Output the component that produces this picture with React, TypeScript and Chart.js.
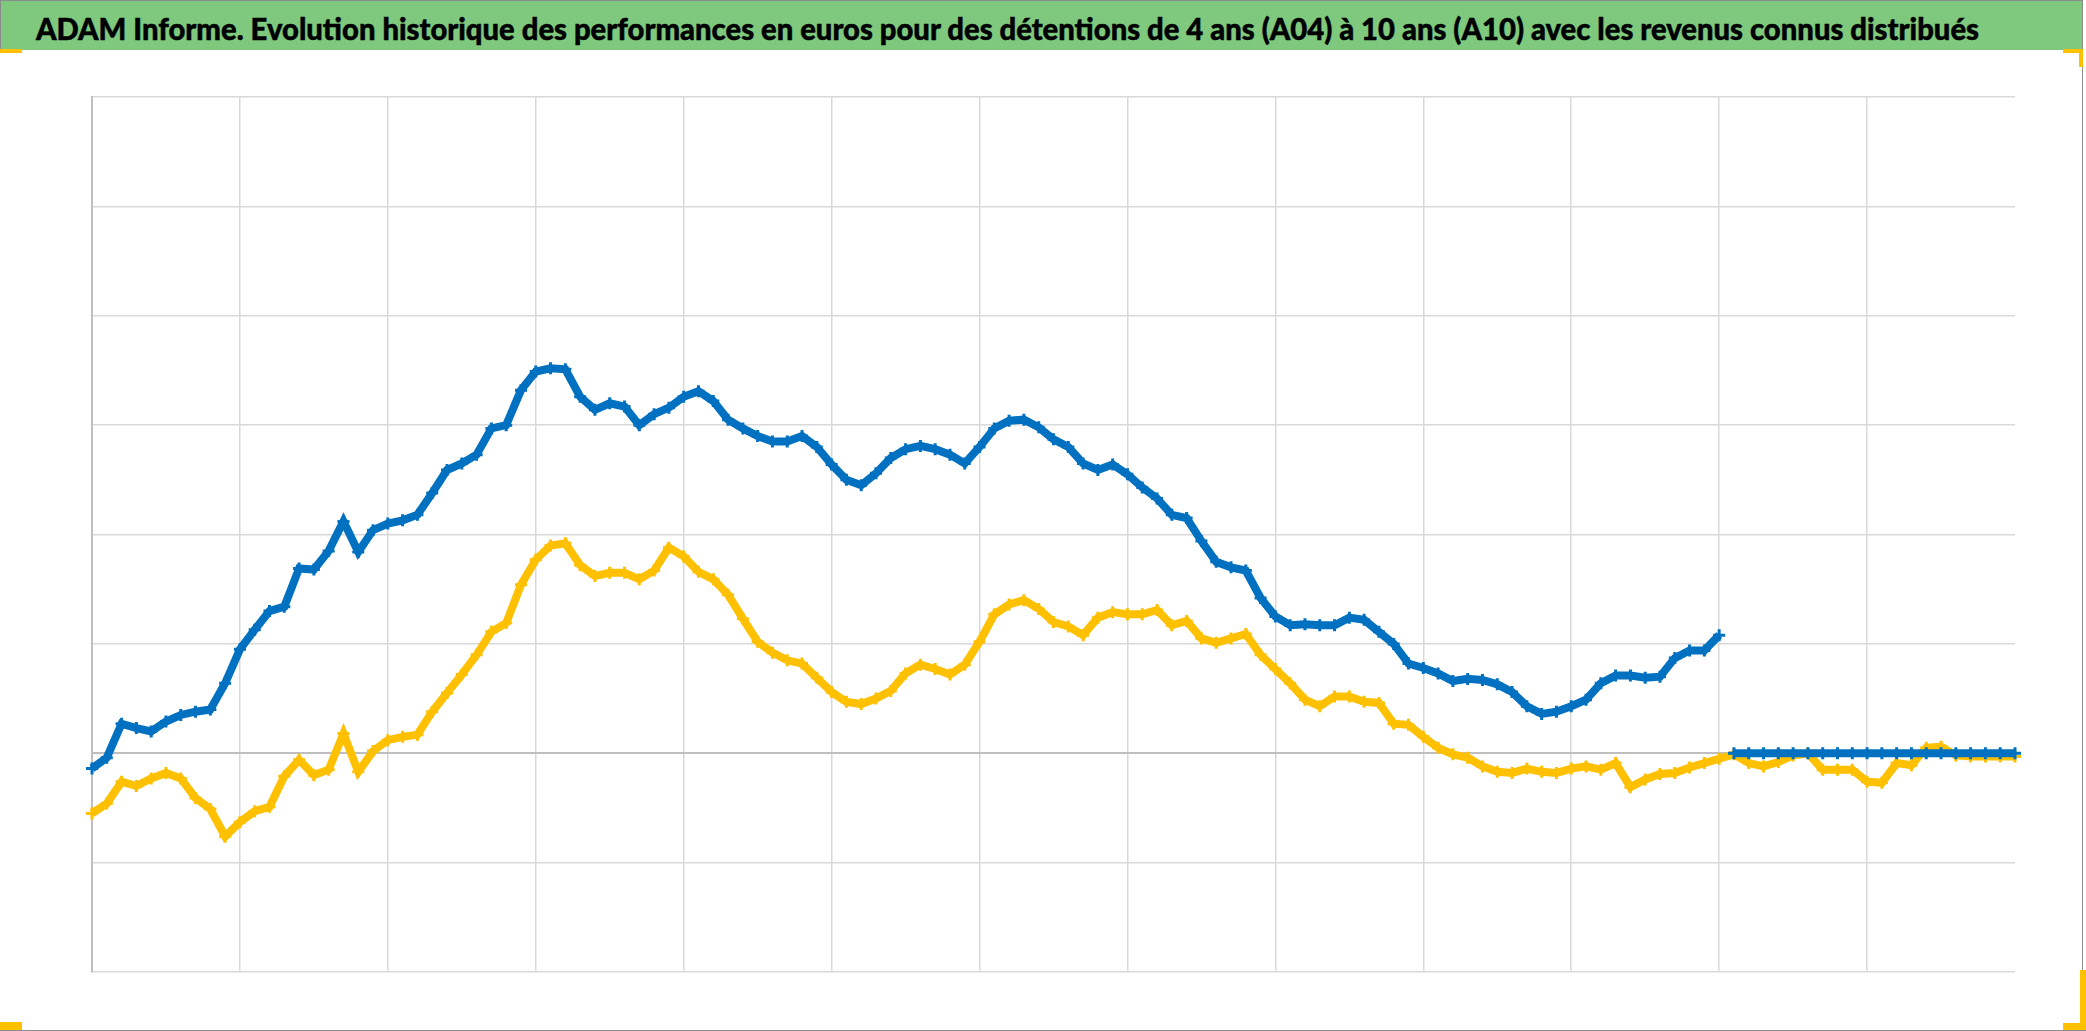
import { useEffect, useRef } from "react";
import { Chart, registerables } from "chart.js";

Chart.register(...registerables);

const TITLE =
  "ADAM Informe. Evolution historique des performances en euros pour des détentions de 4 ans (A04) à 10 ans (A10) avec les revenus connus distribués";

// 131 observation periods (13 grid intervals of 10 periods)
const periods: string[] = Array.from({ length: 131 }, (_, i) => String(i));

// Blue series (values in euros)
const seriesBlue: number[] = [
  -140, -40, 270, 230, 200, 290, 350, 380, 400, 640,
  950, 1130, 1300, 1340, 1690, 1680, 1850, 2120, 1840, 2040,
  2100, 2130, 2180, 2380, 2590, 2650, 2730, 2970, 3000, 3320,
  3490, 3520, 3510, 3260, 3140, 3200, 3170, 3000, 3100, 3160,
  3260, 3310, 3220, 3050, 2970, 2900, 2850, 2850, 2900, 2800,
  2640, 2500, 2450, 2560, 2700, 2780, 2810, 2780, 2730, 2650,
  2800, 2970, 3040, 3050, 2980, 2870, 2800, 2650, 2590, 2640,
  2550, 2430, 2330, 2180, 2150, 1940, 1750, 1700, 1670, 1420,
  1250, 1170, 1180, 1170, 1170, 1240, 1220, 1110, 1000, 820,
  780, 730, 660, 680, 670, 630, 560, 430, 360, 380,
  430, 490, 640, 710, 710, 690, 700, 870, 940, 940,
  1080, 0, 0, 0, 0, 0, 0, 0, 0, 0,
  0, 0, 0, 0, 0, 0, 0, 0, 0, 0,
  0,
];

// Yellow series (values in euros)
const seriesYellow: number[] = [
  -550, -460, -260, -300, -230, -180, -230, -410, -510, -760,
  -630, -530, -490, -210, -60, -200, -150, 180, -170, 20,
  120, 150, 170, 380, 550, 720, 900, 1110, 1190, 1540,
  1770, 1900, 1920, 1720, 1620, 1650, 1650, 1590, 1670, 1880,
  1800, 1660, 1590, 1450, 1230, 1020, 920, 850, 820, 690,
  560, 470, 450, 500, 570, 730, 810, 770, 720, 810,
  1020, 1270, 1360, 1400, 1320, 1200, 1160, 1080, 1240, 1290,
  1270, 1270, 1310, 1170, 1210, 1050, 1010, 1050, 1090, 900,
  770, 640, 490, 430, 520, 520, 470, 460, 270, 260,
  150, 50, -10, -40, -120, -170, -180, -140, -170, -180,
  -140, -120, -150, -90, -310, -240, -190, -180, -130, -90,
  -50, -10, -90, -120, -80, -20, 0, -150, -150, -150,
  -260, -270, -90, -110, 50, 60, -20, -30, -30, -30,
  -30,
];

const Y_MIN = -2000;
const Y_MAX = 6000;
const Y_STEP = 1000;
const BLUE_LAST_KNOWN = 110;

const W = 2086;
const H = 1031;

export default function App() {
  const canvasRef = useRef<HTMLCanvasElement | null>(null);

  useEffect(() => {
    if (!canvasRef.current) return;
    const chart = new Chart(canvasRef.current, {
      type: "line",
      data: {
        labels: periods,
        datasets: [
          {
            label: "A04",
            data: seriesBlue,
            borderColor: "#0070C0",
            backgroundColor: "#0070C0",
            borderWidth: 8,
            pointStyle: "cross",
            pointRadius: 6,
            pointBorderWidth: 3,
            pointBorderColor: "#0070C0",
            tension: 0,
            segment: {
              borderColor: (ctx: any) =>
                ctx.p0DataIndex === BLUE_LAST_KNOWN ? "rgba(0,0,0,0)" : undefined,
            },
          },
          {
            label: "A10",
            data: seriesYellow,
            borderColor: "#FFC000",
            backgroundColor: "#FFC000",
            borderWidth: 8,
            pointStyle: "cross",
            pointRadius: 6,
            pointBorderWidth: 3,
            pointBorderColor: "#FFC000",
            tension: 0,
          },
        ],
      },
      options: {
        responsive: false,
        animation: false,
        layout: { padding: { left: 92, right: 71, top: 97, bottom: 59 } },
        plugins: {
          legend: { display: false },
          title: { display: false },
          tooltip: { enabled: false },
        },
        scales: {
          x: {
            type: "category",
            offset: false,
            ticks: { display: false },
            border: { display: false },
            grid: {
              drawTicks: false,
              lineWidth: 1.5,
              color: (ctx: any) =>
                ctx.index % 10 === 0 && ctx.index !== 0 && ctx.index !== periods.length - 1
                  ? "#d9d9d9"
                  : "rgba(0,0,0,0)",
            },
          },
          y: {
            min: Y_MIN,
            max: Y_MAX,
            ticks: { display: false, stepSize: Y_STEP },
            border: { display: true, color: "#bfbfbf", width: 2 },
            grid: {
              drawTicks: false,
              lineWidth: (ctx: any) => (ctx.tick && ctx.tick.value === 0 ? 2 : 1.5),
              color: (ctx: any) =>
                ctx.tick && ctx.tick.value === 0 ? "#bfbfbf" : "#d9d9d9",
            },
          },
        },
      },
    });
    return () => chart.destroy();
  }, []);

  const handle = "#FFC000";
  return (
    <div
      style={{
        position: "fixed",
        left: 0,
        top: 0,
        width: W,
        height: H,
        background: "#ffffff",
        overflow: "hidden",
      }}
    >
      <canvas
        ref={canvasRef}
        width={W}
        height={H}
        style={{ position: "absolute", left: 0, top: 0, width: W, height: H }}
      />
      <div
        style={{
          position: "absolute",
          left: 0,
          top: 0,
          width: 2082,
          height: 50,
          background: "#7ec97d",
          borderTop: "1px solid #8c8c8c",
          borderLeft: "1px solid #8c8c8c",
          boxSizing: "border-box",
        }}
      >
        <svg width={2082} height={50} style={{ position: "absolute", left: 0, top: 0 }}>
          <text
            x={35}
            y={38.5}
            textLength={1943}
            lengthAdjust="spacingAndGlyphs"
            style={{ fontFamily: "Lato, 'Open Sans', sans-serif", fontWeight: 900, fontSize: 31 }}
            fill="#000000"
            stroke="#000000"
            strokeWidth={0.5}
          >
            {TITLE}
          </text>
        </svg>
      </div>
      {/* frame */}
      <div style={{ position: "absolute", left: 2082, top: 0, width: 1, height: H, background: "#8c8c8c" }} />
      <div style={{ position: "absolute", left: 0, top: 1030, width: W, height: 1, background: "#8c8c8c" }} />
      {/* selection handles */}
      <div style={{ position: "absolute", left: 0, top: 49, width: 22, height: 4, background: handle }} />
      <div style={{ position: "absolute", left: 2063, top: 49, width: 20, height: 4, background: handle }} />
      <div style={{ position: "absolute", left: 2079, top: 49, width: 4, height: 18, background: handle }} />
      <div style={{ position: "absolute", left: 0, top: 1022, width: 22, height: 8, background: handle }} />
      <div style={{ position: "absolute", left: 2063, top: 1023, width: 20, height: 7, background: handle }} />
      <div style={{ position: "absolute", left: 2080, top: 970, width: 6, height: 60, background: handle }} />
    </div>
  );
}
